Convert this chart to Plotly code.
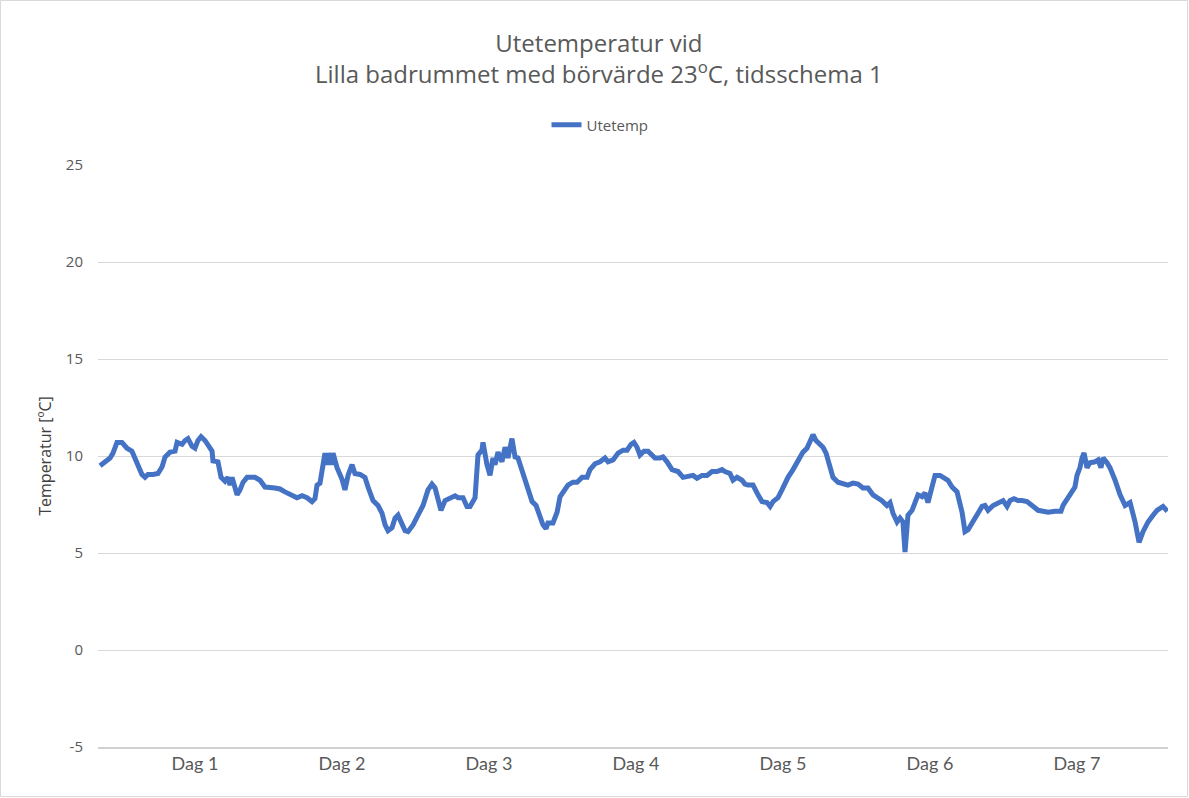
import plotly.graph_objects as go

# Outdoor temperature log, time in days (Dag 1 = 1.0)
days = [
    0.354, 0.388, 0.422, 0.442, 0.469, 0.503, 0.537, 0.571, 0.592, 0.612,
    0.639, 0.660, 0.680, 0.714, 0.748, 0.776, 0.796, 0.830, 0.864, 0.878,
    0.912, 0.932, 0.952, 0.980, 1.000, 1.020, 1.041, 1.068, 1.088, 1.116,
    1.122, 1.156, 1.177, 1.204, 1.224, 1.238, 1.252, 1.286, 1.306, 1.327,
    1.354, 1.408, 1.442, 1.476, 1.544, 1.578, 1.612, 1.660, 1.694, 1.728,
    1.762, 1.796, 1.816, 1.830, 1.850, 1.871, 1.884, 1.898, 1.912, 1.932,
    1.939, 1.966, 2.000, 2.020, 2.041, 2.068, 2.088, 2.122, 2.156, 2.177,
    2.211, 2.245, 2.272, 2.293, 2.313, 2.340, 2.361, 2.381, 2.408, 2.429,
    2.449, 2.483, 2.517, 2.551, 2.585, 2.612, 2.633, 2.653, 2.673, 2.701,
    2.735, 2.769, 2.789, 2.823, 2.850, 2.871, 2.905, 2.925, 2.952, 2.959,
    2.986, 3.007, 3.027, 3.041, 3.061, 3.088, 3.109, 3.129, 3.156, 3.177,
    3.197, 3.231, 3.265, 3.293, 3.320, 3.340, 3.367, 3.388, 3.401, 3.435,
    3.463, 3.483, 3.503, 3.537, 3.571, 3.599, 3.633, 3.667, 3.687, 3.721,
    3.755, 3.789, 3.810, 3.844, 3.878, 3.912, 3.939, 3.966, 3.986, 4.007,
    4.027, 4.054, 4.082, 4.109, 4.129, 4.163, 4.184, 4.211, 4.245, 4.286,
    4.320, 4.354, 4.388, 4.415, 4.449, 4.483, 4.517, 4.551, 4.585, 4.605,
    4.639, 4.660, 4.687, 4.721, 4.741, 4.762, 4.796, 4.830, 4.857, 4.891,
    4.912, 4.932, 4.966, 4.993, 5.014, 5.034, 5.068, 5.095, 5.116, 5.136,
    5.163, 5.184, 5.204, 5.224, 5.245, 5.272, 5.293, 5.313, 5.340, 5.374,
    5.408, 5.442, 5.476, 5.510, 5.544, 5.578, 5.612, 5.646, 5.673, 5.707,
    5.728, 5.748, 5.776, 5.796, 5.816, 5.830, 5.850, 5.878, 5.898, 5.918,
    5.946, 5.966, 5.986, 6.014, 6.034, 6.068, 6.102, 6.122, 6.150, 6.184,
    6.218, 6.238, 6.259, 6.286, 6.320, 6.354, 6.374, 6.395, 6.429, 6.463,
    6.497, 6.524, 6.544, 6.571, 6.599, 6.626, 6.660, 6.694, 6.735, 6.769,
    6.803, 6.850, 6.891, 6.905, 6.939, 6.966, 6.986, 7.000, 7.020, 7.034,
    7.048, 7.068, 7.088, 7.122, 7.143, 7.163, 7.177, 7.204, 7.224, 7.259,
    7.293, 7.327, 7.361, 7.395, 7.422, 7.449, 7.483, 7.517, 7.544, 7.585,
    7.615,
]

utetemp = [
    9.5, 9.7, 9.9, 10.15, 10.7, 10.7, 10.4, 10.25, 9.9, 9.45,
    9.05, 8.9, 9.05, 9.05, 9.1, 9.45, 9.95, 10.2, 10.25, 10.7,
    10.6, 10.8, 10.9, 10.5, 10.4, 10.8, 11.0, 10.8, 10.55, 10.25,
    9.75, 9.7, 8.9, 8.7, 8.9, 8.5, 8.9, 8.0, 8.25, 8.65,
    8.9, 8.9, 8.75, 8.4, 8.35, 8.3, 8.15, 8.0, 7.85, 7.95,
    7.85, 7.65, 7.8, 8.5, 8.6, 9.55, 10.15, 9.55, 10.15, 9.55,
    10.15, 9.4, 8.8, 8.25, 9.0, 9.55, 9.1, 9.05, 8.9, 8.4,
    7.7, 7.45, 7.05, 6.45, 6.15, 6.3, 6.8, 6.95, 6.45, 6.15,
    6.1, 6.45, 6.95, 7.45, 8.25, 8.55, 8.35, 7.65, 7.2, 7.7,
    7.8, 7.95, 7.85, 7.85, 7.4, 7.4, 7.85, 10.05, 10.3, 10.7,
    9.55, 9.0, 9.9, 9.55, 10.2, 9.7, 10.45, 9.9, 10.9, 9.95,
    9.9, 9.1, 8.3, 7.65, 7.45, 6.95, 6.45, 6.25, 6.55, 6.55,
    7.1, 7.9, 8.15, 8.5, 8.65, 8.65, 8.9, 8.9, 9.3, 9.6,
    9.7, 9.9, 9.7, 9.8, 10.15, 10.3, 10.3, 10.6, 10.7, 10.45,
    10.05, 10.25, 10.25, 10.05, 9.9, 9.9, 9.95, 9.7, 9.3, 9.2,
    8.9, 8.95, 9.0, 8.85, 9.0, 9.0, 9.2, 9.2, 9.3, 9.2,
    9.1, 8.75, 8.9, 8.75, 8.55, 8.5, 8.5, 8.0, 7.65, 7.6,
    7.4, 7.65, 7.85, 8.25, 8.6, 8.9, 9.3, 9.7, 9.9, 10.2,
    10.4, 10.8, 11.1, 10.8, 10.65, 10.45, 10.15, 9.55, 8.9, 8.65,
    8.6, 8.5, 8.6, 8.55, 8.35, 8.35, 8.0, 7.85, 7.7, 7.45,
    7.6, 7.05, 6.6, 6.8, 6.6, 5.05, 6.95, 7.2, 7.65, 8.0,
    7.9, 8.1, 7.6, 8.35, 9.0, 9.0, 8.85, 8.75, 8.4, 8.15,
    7.1, 6.1, 6.2, 6.55, 7.05, 7.4, 7.45, 7.2, 7.45, 7.6,
    7.7, 7.4, 7.7, 7.8, 7.7, 7.7, 7.65, 7.45, 7.2, 7.15,
    7.1, 7.15, 7.15, 7.45, 7.85, 8.25, 8.4, 9.0, 9.4, 9.9,
    10.15, 9.4, 9.65, 9.7, 9.8, 9.4, 9.9, 9.65, 9.4, 8.75,
    8.0, 7.45, 7.6, 6.6, 5.55, 6.1, 6.6, 6.95, 7.2, 7.4,
    7.15,
]

day_ticks = [1, 2, 3, 4, 5, 6, 7]
day_labels = ["Dag 1", "Dag 2", "Dag 3", "Dag 4", "Dag 5", "Dag 6", "Dag 7"]
temp_ticks = [-5, 0, 5, 10, 15, 20, 25]
temp_labels = ["-5", "0", "5", "10", "15", "20", "25"]

W, H = 1189, 798
ML, MR, MT, MB = 98, 21, 165, 51
PW, PH = W - ML - MR, H - MT - MB

fig = go.Figure()
fig.add_trace(go.Scatter(
    x=days, y=utetemp, mode="lines", name="Utetemp",
    line=dict(color="#4472C4", width=5, shape="linear"),
))

# two-line chart title
fig.add_annotation(
    text="Utetemperatur vid<br>Lilla badrummet med börvärde 23<sup>o</sup>C, tidsschema 1",
    xref="paper", yref="paper",
    x=(W / 2 - ML + 4) / PW, y=(H - MB - 58) / PH,
    xanchor="center", yanchor="middle", showarrow=False,
    font=dict(family="Open Sans", size=24, color="#595959"),
)

# light frame around the whole chart
fig.add_shape(
    type="rect", xref="paper", yref="paper",
    x0=-(ML - 0.5) / PW, x1=1 + (MR - 1.5) / PW,
    y0=-(MB - 1.5) / PH, y1=1 + (MT - 0.5) / PH,
    line=dict(color="#D9D9D9", width=1), fillcolor="rgba(0,0,0,0)",
    layer="below",
)

fig.update_layout(
    width=W, height=H,
    paper_bgcolor="white", plot_bgcolor="white",
    margin=dict(l=ML, r=MR, t=MT, b=MB),
    showlegend=True,
    legend=dict(
        orientation="h", x=(600 - ML) / PW, xanchor="center",
        y=(H - MB - 125) / PH, yanchor="middle",
        font=dict(family="Open Sans", size=15, color="#595959"),
        itemwidth=30,
    ),
    xaxis=dict(
        range=[0.340, 7.619],
        tickvals=day_ticks, ticktext=day_labels,
        showgrid=False, zeroline=False,
        showline=True, linecolor="#D0D0D0", linewidth=1.5,
        ticks="", tickfont=dict(family="Liberation Sans Narrow, Lato", size=18, color="#595959"),
    ),
    yaxis=dict(
        range=[-5, 25], tickvals=temp_ticks, ticktext=temp_labels,
        showgrid=True, gridcolor="#D9D9D9", gridwidth=1,
        zeroline=False, showline=False, ticks="",
        tickfont=dict(family="Open Sans", size=15, color="#595959"),
        ticklabelstandoff=14,
        title=dict(text="Temperatur [ºC]",
                   font=dict(family="Open Sans", size=16, color="#404040"),
                   standoff=10),
    ),
)

fig.write_html("out.html")
